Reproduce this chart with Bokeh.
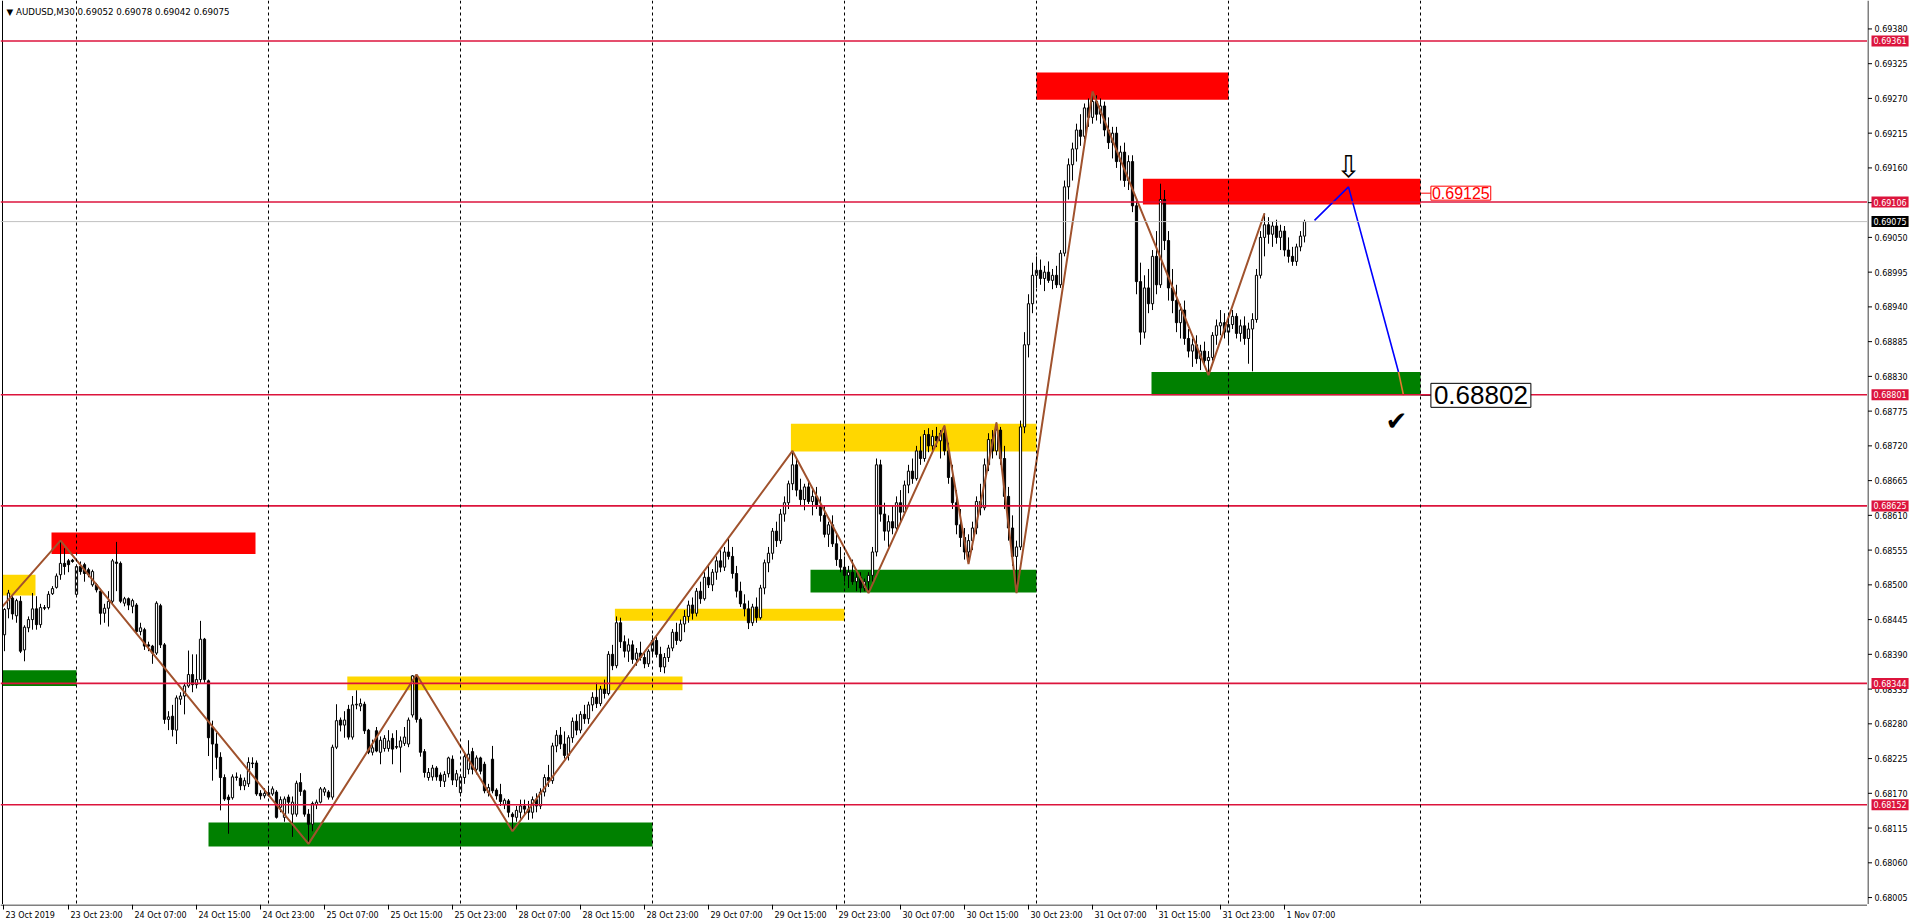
import numpy as np
from bokeh.plotting import figure
from bokeh.models import Range1d, Span, Label, ColumnDataSource, Spacer
from bokeh.layouts import row, column
from bokeh.core.properties import value
from bokeh.embed import file_html
from bokeh.resources import INLINE

# ---------------- data (prices in 1e-5 units) ----------------
opens = [
    68421, 68462, 68479, 68451, 68474, 68397, 68432, 68445, 68462, 68437,
    68464, 68464, 68486, 68496, 68516, 68534, 68538, 68539, 68485, 68529,
    68532, 68524, 68500, 68500, 68490, 68455, 68463, 68474, 68536, 68534,
    68471, 68478, 68466, 68468, 68426, 68429, 68405, 68403, 68392, 68467,
    68405, 68287, 68292, 68270, 68319, 68324, 68340, 68358, 68342, 68350,
    68414, 68348, 68274, 68248, 68227, 68195, 68164, 68163, 68195, 68194,
    68182, 68185, 68218, 68218, 68170, 68166, 68167, 68169, 68172, 68148,
    68132, 68164, 68137, 68137, 68187, 68174, 68137, 68121, 68152, 68156,
    68172, 68172, 68164, 68243, 68286, 68278, 68303, 68259, 68310, 68308,
    68311, 68270, 68235, 68269, 68235, 68241, 68241, 68257, 68244, 68243,
    68249, 68248, 68294, 68357, 68287, 68236, 68195, 68196, 68210, 68199,
    68189, 68201, 68224, 68191, 68171, 68195, 68208, 68236, 68208, 68226,
    68216, 68171, 68224, 68175, 68168, 68152, 68158, 68137, 68132, 68140,
    68150, 68145, 68140, 68160, 68150, 68172, 68195, 68190, 68245, 68262,
    68248, 68230, 68258, 68284, 68270, 68295, 68288, 68310, 68322, 68312,
    68335, 68328, 68390, 68372, 68440, 68410, 68395, 68405, 68382, 68392,
    68385, 68375, 68395, 68412, 68390, 68370, 68385, 68400, 68425, 68412,
    68438, 68450, 68468, 68455, 68490, 68478, 68512, 68500, 68520, 68538,
    68528, 68552, 68545, 68518, 68490, 68470, 68462, 68440, 68465, 68448,
    68495, 68535, 68550, 68585, 68570, 68612, 68630, 68660, 68690, 68650,
    68635, 68655, 68632, 68640, 68625, 68610, 68580, 68595, 68565, 68540,
    68528, 68515, 68520, 68505, 68512, 68495, 68505, 68515, 68552, 68690,
    68612, 68585, 68600, 68590, 68630, 68615, 68658, 68680, 68668, 68712,
    68700, 68738, 68720, 68735, 68728, 68740, 68712, 68670, 68630, 68595,
    68575, 68552, 68570, 68590, 68632, 68622, 68690, 68730, 68712, 68745,
    68700, 68640, 68590, 68545, 68560, 68750, 68880, 68945, 68990, 68998,
    68985, 68995, 68982, 68990, 68975, 69025, 69130, 69165, 69190, 69220,
    69210, 69255, 69240, 69265, 69245, 69258, 69220, 69200, 69215, 69170,
    69185, 69140, 69170, 69100, 68980, 68900, 68970, 68945, 69020, 68975,
    69110, 69045, 68970, 68950, 68915, 68935, 68890, 68870, 68880, 68858,
    68870, 68855, 68860, 68895, 68910, 68915, 68900, 68912, 68925, 68898,
    68910, 68890, 68905, 68920, 68990, 69050, 69070, 69055, 69068, 69050,
    69060, 69030, 69020, 69012, 69035, 69052]
highs = [
    68463, 68492, 68482, 68478, 68482, 68436, 68450, 68487, 68482, 68470,
    68468, 68490, 68498, 68518, 68570, 68558, 68541, 68541, 68532, 68537,
    68535, 68527, 68524, 68503, 68494, 68470, 68490, 68541, 68568, 68537,
    68481, 68480, 68478, 68471, 68440, 68432, 68410, 68405, 68474, 68470,
    68408, 68300, 68310, 68325, 68330, 68345, 68396, 68390, 68390, 68443,
    68416, 68350, 68285, 68266, 68235, 68200, 68168, 68200, 68203, 68200,
    68195, 68227, 68227, 68222, 68175, 68178, 68182, 68181, 68175, 68165,
    68165, 68168, 68165, 68190, 68202, 68176, 68145, 68157, 68160, 68180,
    68180, 68175, 68247, 68311, 68290, 68300, 68310, 68324, 68333, 68320,
    68315, 68272, 68255, 68275, 68260, 68262, 68270, 68265, 68270, 68260,
    68275, 68290, 68357, 68358, 68290, 68240, 68210, 68215, 68213, 68203,
    68205, 68228, 68230, 68207, 68200, 68232, 68254, 68242, 68230, 68228,
    68220, 68185, 68245, 68178, 68185, 68162, 68161, 68140, 68150, 68160,
    68160, 68158, 68165, 68170, 68178, 68200, 68215, 68250, 68270, 68275,
    68268, 68262, 68290, 68295, 68300, 68310, 68315, 68330, 68345, 68340,
    68350, 68395, 68405, 68450, 68448, 68420, 68415, 68412, 68400, 68410,
    68395, 68398, 68420, 68418, 68402, 68392, 68405, 68430, 68440, 68445,
    68460, 68475, 68480, 68495, 68505, 68520, 68530, 68525, 68545, 68555,
    68560, 68575, 68560, 68530, 68505, 68485, 68475, 68470, 68480, 68500,
    68540, 68560, 68590, 68600, 68620, 68640, 68665, 68712, 68700, 68668,
    68660, 68665, 68650, 68655, 68640, 68625, 68600, 68610, 68580, 68560,
    68545, 68530, 68540, 68525, 68520, 68510, 68520, 68560, 68700, 68698,
    68630, 68610, 68625, 68640, 68650, 68665, 68690, 68700, 68720, 68735,
    68745, 68748, 68745, 68750, 68745, 68752, 68725, 68690, 68650, 68620,
    68590, 68580, 68600, 68640, 68660, 68700, 68740, 68745, 68757, 68750,
    68720, 68655, 68610, 68570, 68760, 68900, 68960, 69010, 69020, 69015,
    69005, 69012, 69000, 69005, 69030, 69140, 69175, 69200, 69230, 69245,
    69262, 69270, 69281, 69275, 69270, 69265, 69240, 69225, 69225, 69195,
    69200, 69180, 69180, 69110, 69010, 68990, 69000, 69030, 69060, 69135,
    69125, 69060, 69000, 68975, 68945, 68950, 68905, 68890, 68895, 68880,
    68885, 68870, 68900, 68920, 68935, 68930, 68920, 68935, 68930, 68920,
    68925, 68915, 68930, 69000, 69060, 69088, 69082, 69075, 69078, 69070,
    69068, 69050, 69035, 69040, 69060, 69078]
lows = [
    68395, 68447, 68445, 68440, 68392, 68379, 68425, 68429, 68429, 68432,
    68460, 68461, 68484, 68494, 68508, 68516, 68520, 68535, 68482, 68516,
    68505, 68512, 68497, 68488, 68437, 68440, 68434, 68471, 68490, 68471,
    68466, 68460, 68455, 68423, 68420, 68397, 68395, 68375, 68389, 68400,
    68280, 68270, 68260, 68248, 68310, 68295, 68337, 68330, 68336, 68345,
    68345, 68229, 68190, 68208, 68143, 68158, 68106, 68160, 68190, 68175,
    68175, 68180, 68210, 68166, 68160, 68162, 68165, 68166, 68130, 68140,
    68125, 68138, 68101, 68133, 68166, 68133, 68090, 68110, 68145, 68154,
    68166, 68160, 68160, 68240, 68268, 68258, 68255, 68255, 68303, 68300,
    68264, 68232, 68230, 68235, 68216, 68236, 68236, 68216, 68240, 68203,
    68245, 68243, 68290, 68282, 68228, 68195, 68190, 68190, 68190, 68180,
    68180, 68195, 68183, 68180, 68165, 68185, 68200, 68200, 68200, 68200,
    68170, 68165, 68170, 68160, 68150, 68145, 68132, 68110, 68125, 68130,
    68135, 68128, 68130, 68140, 68145, 68165, 68180, 68185, 68235, 68240,
    68225, 68222, 68250, 68262, 68265, 68280, 68280, 68300, 68305, 68308,
    68320, 68325, 68365, 68368, 68400, 68385, 68378, 68375, 68372, 68380,
    68368, 68370, 68388, 68385, 68362, 68360, 68378, 68395, 68405, 68410,
    68425, 68440, 68445, 68450, 68470, 68475, 68495, 68490, 68508, 68520,
    68522, 68540, 68510, 68480, 68465, 68450, 68430, 68435, 68440, 68445,
    68485, 68520, 68540, 68560, 68565, 68600, 68620, 68650, 68640, 68625,
    68618, 68628, 68610, 68620, 68600, 68575, 68560, 68560, 68530, 68520,
    68505, 68495, 68500, 68490, 68488, 68490, 68487, 68505, 68545, 68600,
    68570, 68560, 68580, 68585, 68600, 68610, 68645, 68660, 68665, 68690,
    68695, 68710, 68712, 68718, 68700, 68705, 68660, 68620, 68580, 68560,
    68540, 68533, 68555, 68580, 68610, 68618, 68680, 68700, 68705, 68690,
    68620, 68570, 68530, 68487, 68555, 68740, 68860, 68930, 68970, 68975,
    68965, 68978, 68968, 68970, 68970, 69020, 69110, 69140, 69170, 69195,
    69205, 69225, 69230, 69235, 69230, 69210, 69190, 69175, 69160, 69140,
    69130, 69125, 69090, 68960, 68880, 68890, 68930, 68935, 68960, 68970,
    69030, 68950, 68930, 68900, 68890, 68880, 68860, 68845, 68850, 68840,
    68845, 68832, 68855, 68880, 68895, 68890, 68880, 68905, 68890, 68885,
    68880, 68850, 68838, 68915, 68985, 69020, 69040, 69035, 69040, 69030,
    69020, 69010, 69005, 69005, 69028, 69042]
closes = [
    68461, 68487, 68454, 68475, 68395, 68433, 68445, 68462, 68437, 68464,
    68463, 68485, 68494, 68514, 68534, 68529, 68532, 68537, 68529, 68521,
    68518, 68516, 68521, 68492, 68455, 68463, 68474, 68538, 68534, 68474,
    68478, 68468, 68475, 68426, 68432, 68403, 68403, 68392, 68471, 68405,
    68287, 68291, 68271, 68321, 68324, 68340, 68358, 68342, 68350, 68414,
    68350, 68258, 68248, 68227, 68195, 68161, 68160, 68196, 68196, 68182,
    68190, 68219, 68217, 68169, 68166, 68170, 68171, 68177, 68132, 68160,
    68161, 68156, 68156, 68186, 68173, 68137, 68121, 68154, 68156, 68177,
    68177, 68164, 68243, 68285, 68278, 68286, 68259, 68310, 68311, 68312,
    68269, 68235, 68242, 68237, 68254, 68257, 68253, 68240, 68243, 68253,
    68259, 68286, 68356, 68287, 68235, 68203, 68203, 68210, 68196, 68190,
    68200, 68226, 68191, 68201, 68196, 68228, 68232, 68208, 68226, 68205,
    68174, 68179, 68174, 68166, 68157, 68159, 68140, 68133, 68143, 68150,
    68145, 68140, 68160, 68150, 68172, 68195, 68190, 68245, 68262, 68248,
    68230, 68258, 68284, 68270, 68295, 68288, 68310, 68322, 68312, 68335,
    68328, 68390, 68372, 68440, 68410, 68395, 68405, 68382, 68392, 68385,
    68375, 68395, 68412, 68390, 68370, 68385, 68400, 68425, 68412, 68438,
    68450, 68468, 68455, 68490, 68478, 68512, 68500, 68520, 68538, 68528,
    68552, 68545, 68518, 68490, 68470, 68462, 68440, 68465, 68448, 68495,
    68535, 68550, 68585, 68570, 68612, 68630, 68660, 68690, 68650, 68635,
    68655, 68632, 68640, 68625, 68610, 68580, 68595, 68565, 68540, 68528,
    68515, 68520, 68505, 68512, 68495, 68505, 68515, 68552, 68690, 68612,
    68585, 68600, 68590, 68630, 68615, 68658, 68680, 68668, 68712, 68700,
    68738, 68720, 68735, 68728, 68740, 68712, 68670, 68630, 68595, 68575,
    68552, 68570, 68590, 68632, 68622, 68690, 68730, 68712, 68745, 68700,
    68640, 68590, 68545, 68560, 68750, 68880, 68945, 68990, 68998, 68985,
    68995, 68982, 68990, 68975, 69025, 69130, 69165, 69190, 69220, 69210,
    69255, 69240, 69265, 69245, 69258, 69220, 69200, 69215, 69170, 69185,
    69140, 69170, 69100, 68980, 68900, 68970, 68945, 69020, 68975, 69110,
    69045, 68970, 68950, 68915, 68935, 68890, 68870, 68880, 68858, 68870,
    68855, 68860, 68895, 68910, 68915, 68900, 68912, 68925, 68898, 68910,
    68890, 68905, 68920, 68990, 69050, 69070, 69055, 69068, 69050, 69060,
    69030, 69020, 69012, 69035, 69052, 69075]

time_labels = ["23 Oct 2019", "23 Oct 23:00", "24 Oct 07:00", "24 Oct 15:00",
               "24 Oct 23:00", "25 Oct 07:00", "25 Oct 15:00", "25 Oct 23:00",
               "28 Oct 07:00", "28 Oct 15:00", "28 Oct 23:00", "29 Oct 07:00",
               "29 Oct 15:00", "29 Oct 23:00", "30 Oct 07:00", "30 Oct 15:00",
               "30 Oct 23:00", "31 Oct 07:00", "31 Oct 15:00", "31 Oct 23:00",
               "1 Nov 07:00"]
time_label_bars = [0, 18, 34, 50, 66, 82, 98, 114, 130, 146, 162, 178, 194,
                   210, 226, 242, 258, 274, 290, 306, 322]
day_sep_bars = [18, 66, 114, 162, 210, 258, 306, 354]

price_ticks = [0.68005, 0.68060, 0.68115, 0.68170, 0.68225, 0.68280, 0.68335,
               0.68390, 0.68445, 0.68500, 0.68555, 0.68610, 0.68665, 0.68720,
               0.68775, 0.68830, 0.68885, 0.68940, 0.68995, 0.69050, 0.69105,
               0.69160, 0.69215, 0.69270, 0.69325, 0.69380]

level_prices = [0.69361, 0.69106, 0.68801, 0.68625, 0.68344, 0.68152]

zone_left = [-0.5, 11.75, -0.5, 51, 85.7, 152.6, 196.6, 201.5, 258, 284.6, 286.75]
zone_right = [7.75, 62.75, 18, 162, 169.5, 210, 258, 258, 306, 354, 354]
zone_bottom = [0.68483, 0.68549, 0.68340, 0.68086, 0.68333, 0.68443, 0.68711,
               0.68488, 0.69268, 0.69102, 0.68800]
zone_top = [0.68516, 0.68583, 0.68365, 0.68124, 0.68355, 0.68462, 0.68755,
            0.68524, 0.69311, 0.69143, 0.68837]
zone_color = ["#FFD700", "#FF0000", "#008000", "#008000", "#FFD700", "#FFD700",
              "#FFD700", "#008000", "#FF0000", "#FF0000", "#008000"]

zz_bars = [-0.5, 14, 76, 103, 127, 197, 216, 235, 241, 248, 253, 272, 301, 315]
zz_prices = [0.68466, 0.68570, 0.68090, 0.68358, 0.68110, 0.68712, 0.68487,
             0.68752, 0.68533, 0.68757, 0.68487, 0.69281, 0.68832, 0.69088]

proj_bars = [327.5, 336, 348.5]
proj_prices = [0.69077, 0.69130, 0.68837]
proj_tail_bars = [348.5, 349.75]
proj_tail_prices = [0.68837, 0.68800]

target_high = 0.69125
target_low = 0.68802

# ---------------- layout constants ----------------
MAIN_W, MAIN_H = 1867, 904
AXIS_W, AXIS_H = 49, 19
X0, X1 = -1.0, 465.75
Y0, Y1 = 0.67994, 0.69425
AX_FONT = "DejaVu Sans"

n = min(len(opens), len(highs), len(lows), len(closes))
o = np.array(opens[:n]) / 1e5
h = np.array(highs[:n]) / 1e5
l = np.array(lows[:n]) / 1e5
c = np.array(closes[:n]) / 1e5
idx = np.arange(n)

xr = Range1d(X0, X1)
yr = Range1d(Y0, Y1)


def bare(width, height, x_range, y_range):
    f = figure(width=width, height=height, x_range=x_range, y_range=y_range,
               output_backend="svg", toolbar_location=None,
               x_axis_location=None, y_axis_location=None,
               min_border_left=0, min_border_right=0, min_border_top=0,
               min_border_bottom=0)
    f.outline_line_color = None
    f.grid.visible = False
    f.background_fill_color = "white"
    f.border_fill_color = "white"
    return f


# ---------------- main chart ----------------
p = bare(MAIN_W, MAIN_H, xr, yr)

p.add_layout(Span(location=-0.5, dimension="height", line_color="black", line_width=1))

p.quad(left=zone_left, right=zone_right, bottom=zone_bottom, top=zone_top,
       fill_color=zone_color, line_color=None)

for lv in level_prices:
    p.add_layout(Span(location=lv, dimension="width", line_color="#DC143C", line_width=1.6))
p.add_layout(Span(location=float(c[-1]), dimension="width", line_color="#C0C0C0", line_width=1))

for b in day_sep_bars:
    p.add_layout(Span(location=b, dimension="height", line_color="black",
                      line_width=1, line_dash="3 3"))

bull = c >= o
src = ColumnDataSource(dict(x=idx, o=o, h=h, l=l, c=c,
                            top=np.maximum(o, c), bot=np.minimum(o, c),
                            fill=np.where(bull, "white", "black")))
p.segment(x0="x", y0="l", x1="x", y1="h", source=src, line_color="black", line_width=1)
p.vbar(x="x", width=0.55, top="top", bottom="bot", source=src,
       fill_color="fill", line_color="black", line_width=1)

p.line(zz_bars, zz_prices, line_color="#A0522D", line_width=2)
p.line(proj_bars, proj_prices, line_color="#0000FF", line_width=1.6)
p.line(proj_tail_bars, proj_tail_prices, line_color="#E8792E", line_width=1.6)

p.segment(x0=[354, 354], y0=[0.69120, 0.68800], x1=[356.6, 356.6], y1=[0.69120, 0.68800],
          line_color=["#FF0000", "black"], line_width=1)

p.add_layout(Label(x=356.6, y=0.69120, text=f"{target_high:.5f}", text_align="left",
                   text_baseline="middle", text_font="Liberation Sans",
                   text_font_size="16px", text_color="#FF0000",
                   border_line_color="#FF0000", border_line_width=1,
                   background_fill_color="white", padding=1))
p.add_layout(Label(x=356.6, y=0.68800, text=f"{target_low:.5f}", text_align="left",
                   text_baseline="middle", text_font="Liberation Sans",
                   text_font_size="26px", text_color="black",
                   border_line_color="black", border_line_width=1,
                   background_fill_color="white", padding=3))

p.add_layout(Label(x=336, y=0.69163, text="\u21E9", text_align="center",
                   text_baseline="middle", text_font="DejaVu Sans",
                   text_font_size="30px", text_color="black"))
p.add_layout(Label(x=348, y=0.68760, text="\u2714", text_align="center",
                   text_baseline="middle", text_font="DejaVu Sans",
                   text_font_size="26px", text_color="black"))

header = "\u25BC AUDUSD,M30  %.5f %.5f %.5f %.5f" % (o[-1], h[-1], l[-1], c[-1])
p.add_layout(Label(x=X0, y=Y1, x_offset=6, y_offset=-6, text=header,
                   text_align="left", text_baseline="top", text_font=AX_FONT,
                   text_font_size="8.7px", text_color="black"))

# ---------------- right price axis ----------------
pr = bare(AXIS_W, MAIN_H, Range1d(0, AXIS_W), yr)
pr.segment(x0=[0.5], y0=[Y0], x1=[0.5], y1=[Y1], line_color="black", line_width=1)
pr.segment(x0=[0.5] * len(price_ticks), y0=price_ticks, x1=[4.5] * len(price_ticks),
           y1=price_ticks, line_color="black", line_width=1)
pr.text(x=[7] * len(price_ticks), y=price_ticks, text=[f"{t:.5f}" for t in price_ticks],
        text_font=value(AX_FONT), text_font_size=value("8px"), text_color="black",
        text_align="left", text_baseline="middle")
for lv in level_prices:
    pr.add_layout(Label(x=4, y=lv, x_offset=0, text=f"{lv:.5f}", text_align="left",
                        text_baseline="middle", text_font=AX_FONT, text_font_size="8px",
                        text_color="white", background_fill_color="#DC143C", padding=2))
pr.add_layout(Label(x=4, y=float(c[-1]), text=f"{c[-1]:.5f}", text_align="left",
                    text_baseline="middle", text_font=AX_FONT, text_font_size="8px",
                    text_color="white", background_fill_color="black", padding=2))

# ---------------- bottom time axis ----------------
pb = bare(MAIN_W, AXIS_H, xr, Range1d(AXIS_H, 0))
time_ticks = [-0.25] + [b - 2 for b in time_label_bars[1:]]
pb.segment(x0=[X0], y0=[0.5], x1=[X1], y1=[0.5], line_color="black", line_width=1)
pb.segment(x0=time_ticks, y0=[0] * len(time_ticks), x1=time_ticks, y1=[5] * len(time_ticks),
           line_color="black", line_width=1)
pb.text(x=time_ticks, y=[11] * len(time_ticks), text=time_labels, x_offset=2,
        text_font=value(AX_FONT), text_font_size=value("8px"), text_color="black",
        text_align="left", text_baseline="middle")

corner = Spacer(width=AXIS_W, height=AXIS_H)

layout = column(row(p, pr), row(pb, corner))
print("bars:", len(opens), len(highs), len(lows), len(closes))
open("out.html", "w").write(file_html(layout, INLINE))
